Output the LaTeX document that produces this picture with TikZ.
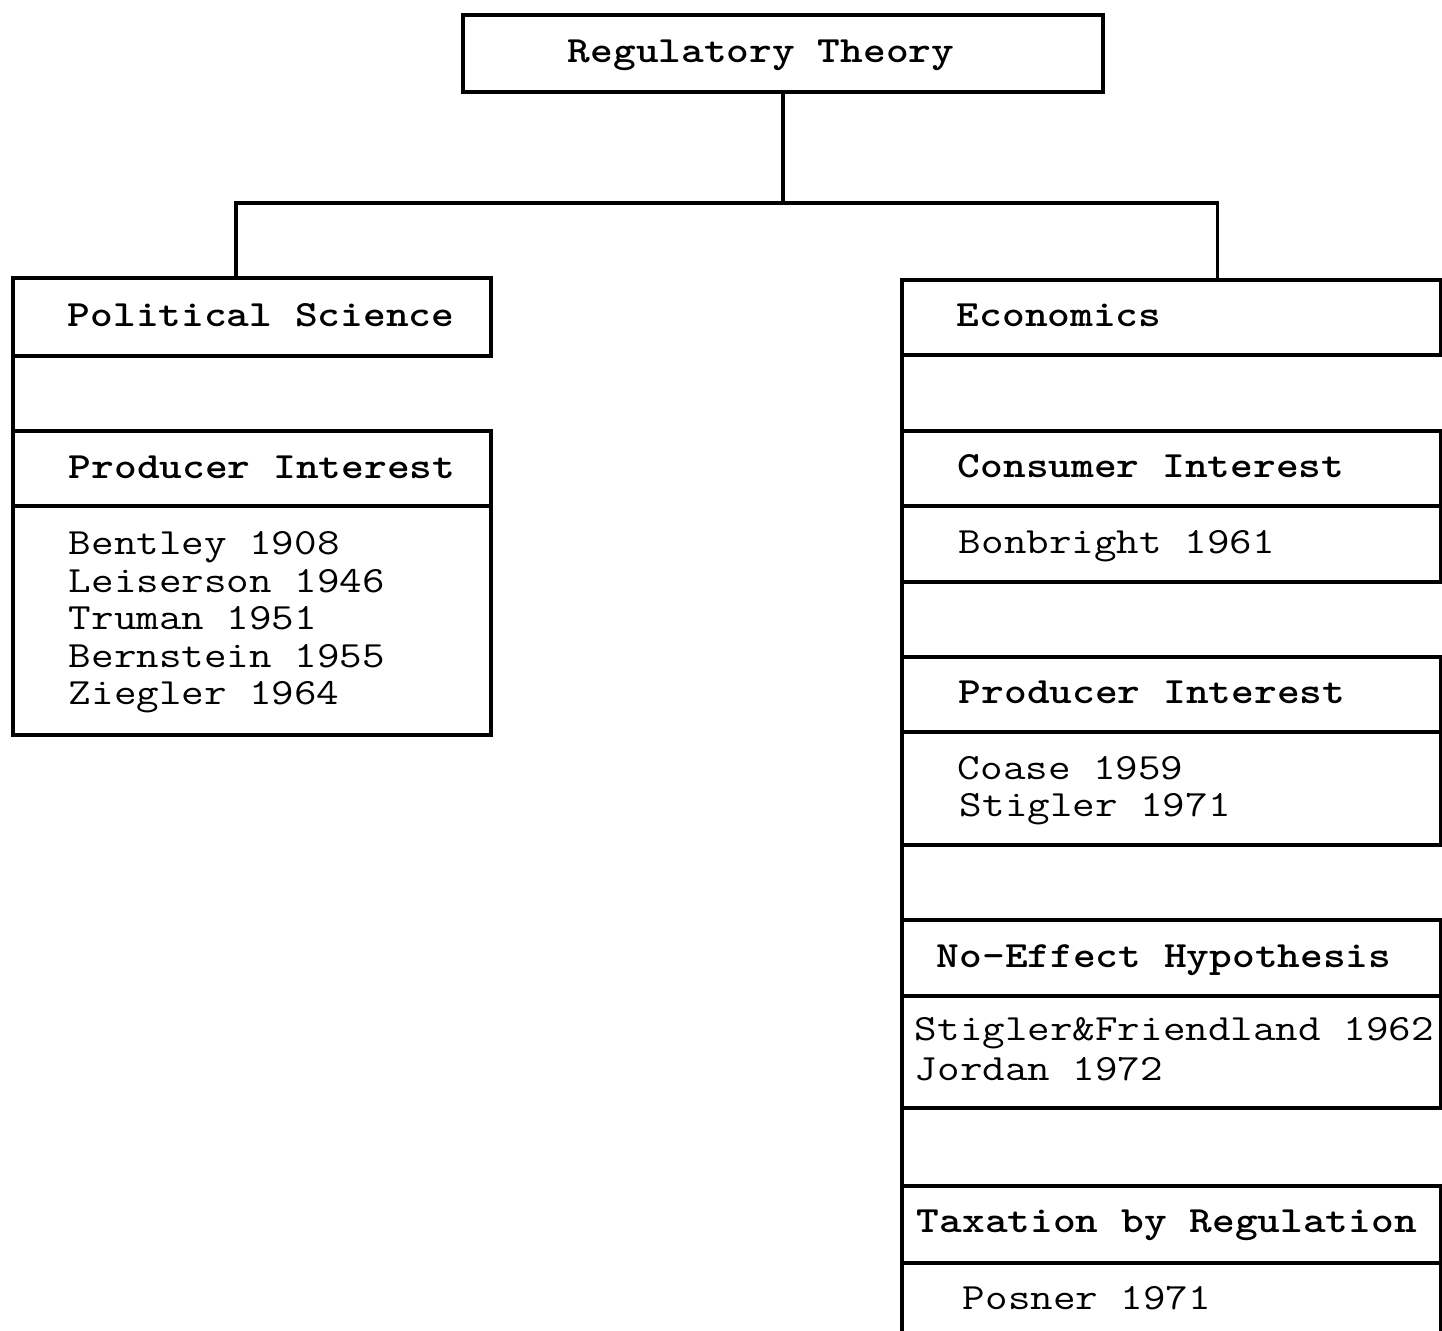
\documentclass[tikz,border=0pt]{standalone}
\usepackage{fontspec}
\begin{document}
\begin{tikzpicture}[x=0.5pt,y=-0.5pt,
  line width=1.6pt,
  box/.style={draw=black, rectangle, inner sep=0pt, outer sep=0pt, anchor=north west},
  head/.style={anchor=base west, inner sep=0pt, xscale=1.17, transform shape,
    font=\ttfamily\bfseries\fontsize{18.5pt}{18.5pt}\selectfont},
  entry/.style={anchor=base west, inner sep=0pt, xscale=1.184, transform shape,
    font=\ttfamily\fontsize{18.5pt}{18.5pt}\selectfont},
  link/.style={draw=black, line width=1.6pt}]
\useasboundingbox (0,0) rectangle (1442,1331);

% root
\node[box, minimum width=320pt, minimum height=38.5pt] (title) at (463,15) {};
\node[head] (titleT) at (566,63) {Regulatory Theory};

% political science column
\node[box, minimum width=239pt, minimum height=39pt] (polsci) at (13,278) {};
\node[head] (polsciT) at (66,327) {Political Science};
\node[box, minimum width=239pt, minimum height=37.5pt] (prodL) at (13,431) {};
\node[head] (prodLT) at (67,479) {Producer Interest};
\node[box, minimum width=239pt, minimum height=114.5pt] (listL) at (13,506) {};
\node[entry] (l1) at (67,555) {Bentley 1908};
\node[entry] (l2) at (67,592.5) {Leiserson 1946};
\node[entry] (l3) at (67,630) {Truman 1951};
\node[entry] (l4) at (67,667.5) {Bernstein 1955};
\node[entry] (l5) at (67,705) {Ziegler 1964};

% economics column
\node[box, minimum width=269.5pt, minimum height=37.5pt] (econ) at (902,280) {};
\node[head] (econT) at (955,327) {Economics};
\node[box, minimum width=269.5pt, minimum height=37.5pt] (cons) at (902,431) {};
\node[head] (consT) at (956,478) {Consumer Interest};
\node[box, minimum width=269.5pt, minimum height=38pt] (bonb) at (902,506) {};
\node[entry] (bonbT) at (957,554) {Bonbright 1961};
\node[box, minimum width=269.5pt, minimum height=37.5pt] (prodR) at (902,657) {};
\node[head] (prodRT) at (957,704) {Producer Interest};
\node[box, minimum width=269.5pt, minimum height=56.5pt] (coase) at (902,732) {};
\node[entry] (coaseT) at (956,780) {Coase 1959};
\node[entry] (stiglT) at (958,817) {Stigler 1971};
\node[box, minimum width=269.5pt, minimum height=38pt] (noeff) at (902,920) {};
\node[head] (noeffT) at (935,968) {No-Effect Hypothesis};
\node[box, minimum width=269.5pt, minimum height=56pt] (stigf) at (902,996) {};
\node[entry] (stigfT) at (913,1041) {Stigler\&Friendland 1962};
\node[entry] (jordT) at (913,1080) {Jordan 1972};
\node[box, minimum width=269.5pt, minimum height=38.5pt] (tax) at (902,1186) {};
\node[head] (taxT) at (915,1232) {Taxation by Regulation};
\node[box, minimum width=269.5pt, minimum height=41pt] (posner) at (902,1263) {};
\node[entry] (posnerT) at (961,1309) {Posner 1971};

% tree connectors
\coordinate (bus) at (783,203);
\draw[link] (title.south) -- (bus);
\draw[link] (bus) -| ([shift={(-16,0)}]polsci.north);
\draw[link] (bus) -| ([shift={(46,0)}]econ.north);

% left edges joining the stacked boxes
\draw[link] (polsci.south west) -- (prodL.north west);
\draw[link] (econ.south west) -- (cons.north west);
\draw[link] (bonb.south west) -- (prodR.north west);
\draw[link] (coase.south west) -- (noeff.north west);
\draw[link] (stigf.south west) -- (tax.north west);
\end{tikzpicture}
\end{document}
